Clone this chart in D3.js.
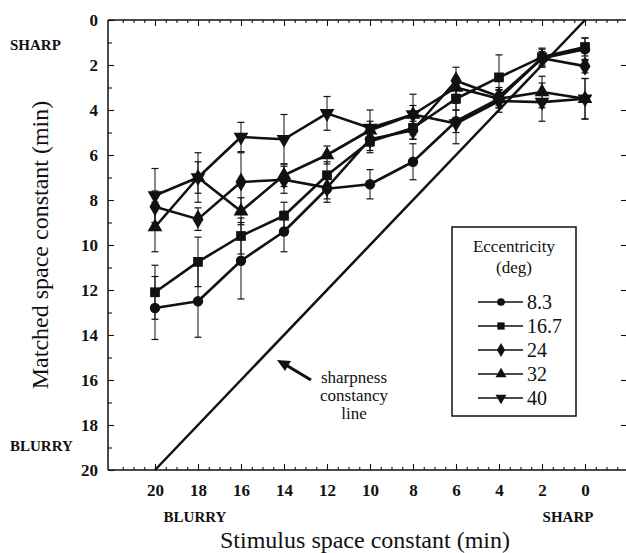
<!DOCTYPE html>
<html>
<head>
<meta charset="utf-8">
<script src="https://cdn.jsdelivr.net/npm/d3@7"></script>
<style>
  body { margin: 0; background: #fff; }
</style>
</head>
<body>
<svg id="chart" width="626" height="553"></svg>
<script>
// stimulus space constant (min), left to right
const stimulus = [20, 18, 16, 14, 12, 10, 8, 6, 4, 2, 0];
const eccentricities = ["8.3", "16.7", "24", "32", "40"];

// matched space constant (min) per eccentricity
const matched83 = [12.8, 12.5, 10.7, 9.4, 7.5, 7.3, 6.3, 4.5, 3.5, 1.7, 1.3];
const matched167 = [12.1, 10.75, 9.6, 8.7, 6.9, 5.4, 4.8, 3.5, 2.55, 1.65, 1.2];
const matched24 = [8.3, 8.85, 7.2, 7.1, 7.45, 5.3, 4.9, 2.7, 3.4, 1.7, 2.05];
const matched32 = [9.2, 7.0, 8.5, 6.9, 6.0, 4.9, 4.2, 3.0, 3.5, 3.2, 3.5];
const matched40 = [7.8, 7.0, 5.2, 5.3, 4.15, 4.8, 4.2, 4.6, 3.6, 3.65, 3.5];

// error bar half lengths
const err83 = [1.4, 1.6, 1.7, 0.9, 0.6, 0.65, 0.8, 0.5, 0.4, 0.3, 0.5];
const err167 = [1.2, 1.1, 0.8, 0.6, 0.6, 0.5, 0.5, 0.5, 1.0, 0.4, 0.4];
const err24 = [0.7, 0.5, 1.3, 0.6, 0.5, 0.5, 0.4, 0.6, 0.4, 0.4, 0.3];
const err32 = [1.1, 0.7, 0.6, 0.5, 0.4, 0.4, 0.4, 0.4, 0.4, 0.7, 0.9];
const err40 = [1.2, 1.1, 0.65, 1.1, 0.75, 0.8, 0.9, 0.9, 0.5, 0.85, 0.9];

const xTicks = [20, 18, 16, 14, 12, 10, 8, 6, 4, 2, 0];
const yTicks = [0, 2, 4, 6, 8, 10, 12, 14, 16, 18, 20];

const series = [
  { name: eccentricities[0], values: matched83, err: err83, shape: "circle" },
  { name: eccentricities[1], values: matched167, err: err167, shape: "square" },
  { name: eccentricities[2], values: matched24, err: err24, shape: "diamond" },
  { name: eccentricities[3], values: matched32, err: err32, shape: "up" },
  { name: eccentricities[4], values: matched40, err: err40, shape: "down" },
];

const SERIF = "'Liberation Serif', 'DejaVu Serif', 'Times New Roman', Times, serif";

const svg = d3.select("#chart");

const FRAME = { left: 108, right: 626, top: 20, bottom: 470 };
const x = d3.scaleLinear().domain([20, 0]).range([155, 585]);
const y = d3.scaleLinear().domain([0, 20]).range([FRAME.top, FRAME.bottom]);

// symbol path generator for each marker shape
function symbolPath(shape, scale = 1) {
  const types = {
    circle: [d3.symbolCircle, 85],
    square: [d3.symbolSquare, 95],
    diamond: [d3.symbolDiamond, 105],
    up: [d3.symbolTriangle, 95],
    down: [d3.symbolTriangle, 95],
  };
  const [type, size] = types[shape];
  return d3.symbol().type(type).size(size * scale)();
}

// frame lines
[[FRAME.left, FRAME.top, FRAME.right, FRAME.top],
 [FRAME.left, FRAME.bottom, FRAME.right, FRAME.bottom],
 [FRAME.left, FRAME.top, FRAME.left, FRAME.bottom]].forEach(([x1, y1, x2, y2]) => {
  svg.append("line")
    .attr("x1", x1).attr("y1", y1).attr("x2", x2).attr("y2", y2)
    .attr("stroke", "#111").attr("stroke-width", 1.5);
});

// minor tick values along x (every 0.5 within the frame)
const xMinor = d3.range(-1.5, 22.01, 0.5).filter((v) => v % 2 !== 0);
const yMinor = d3.range(1, 20, 2);

function styleAxis(g) {
  g.attr("font-family", SERIF);
  g.select(".domain").remove();
  g.selectAll(".tick line").attr("stroke", "#111").attr("stroke-width", 1.1);
}

// bottom axis: ticks point up into the plot
const xAxisBottom = svg.append("g")
  .attr("transform", `translate(0,${FRAME.bottom})`)
  .call(d3.axisBottom(x).tickValues(xTicks).tickSize(-6).tickPadding(14).tickFormat(d3.format("d")));
styleAxis(xAxisBottom);
xAxisBottom.selectAll("text")
  .attr("font-size", 17).attr("font-weight", "bold");

svg.append("g")
  .attr("transform", `translate(0,${FRAME.bottom})`)
  .call(d3.axisBottom(x).tickValues(xMinor).tickSize(-3).tickFormat(""))
  .call(styleAxis);

// top axis: ticks point down
svg.append("g")
  .attr("transform", `translate(0,${FRAME.top})`)
  .call(d3.axisTop(x).tickValues(xTicks).tickSize(-6).tickFormat(""))
  .call(styleAxis);
svg.append("g")
  .attr("transform", `translate(0,${FRAME.top})`)
  .call(d3.axisTop(x).tickValues(xMinor).tickSize(-3).tickFormat(""))
  .call(styleAxis);

// left axis: ticks point right
const yAxisLeft = svg.append("g")
  .attr("transform", `translate(${FRAME.left},0)`)
  .call(d3.axisLeft(y).tickValues(yTicks).tickSize(-6).tickPadding(10).tickFormat(d3.format("d")));
styleAxis(yAxisLeft);
yAxisLeft.selectAll("text")
  .attr("font-size", 17).attr("font-weight", "bold");
svg.append("g")
  .attr("transform", `translate(${FRAME.left},0)`)
  .call(d3.axisLeft(y).tickValues(yMinor).tickSize(-4).tickFormat(""))
  .call(styleAxis);

// right edge: only short ticks visible
svg.append("g")
  .attr("transform", `translate(${FRAME.right},0)`)
  .call(d3.axisRight(y).tickValues(yTicks.slice(1, -1)).tickSize(-5).tickFormat(""))
  .call(styleAxis);

// sharpness constancy line (identity)
svg.append("line")
  .attr("x1", x(20)).attr("y1", y(20))
  .attr("x2", x(0)).attr("y2", y(0))
  .attr("stroke", "#111").attr("stroke-width", 2.5);

// error bars
const bars = svg.append("g").attr("class", "error-bars");
series.forEach((s) => {
  s.values.forEach((v, i) => {
    const cx = x(stimulus[i]);
    const lo = y(v - s.err[i]);
    const hi = y(v + s.err[i]);
    bars.append("line")
      .attr("x1", cx).attr("x2", cx).attr("y1", lo).attr("y2", hi)
      .attr("stroke", "#111").attr("stroke-width", 1);
    [lo, hi].forEach((yy) => {
      bars.append("line")
        .attr("x1", cx - 3.5).attr("x2", cx + 3.5).attr("y1", yy).attr("y2", yy)
        .attr("stroke", "#111").attr("stroke-width", 1.2);
    });
  });
});

// series lines and markers
const line = d3.line()
  .x((d) => x(d.s))
  .y((d) => y(d.v));

series.forEach((s) => {
  const pts = s.values.map((v, i) => ({ s: stimulus[i], v }));
  svg.append("path")
    .datum(pts)
    .attr("d", line)
    .attr("fill", "none")
    .attr("stroke", "#111")
    .attr("stroke-width", 2.6)
    .attr("stroke-linejoin", "round");
  svg.append("g")
    .selectAll("path")
    .data(pts)
    .join("path")
    .attr("d", symbolPath(s.shape))
    .attr("transform", (d) =>
      `translate(${x(d.s)},${y(d.v)})` + (s.shape === "down" ? " rotate(180)" : ""))
    .attr("fill", "#111");
});

// legend
const legend = svg.append("g").attr("class", "legend");
legend.append("rect")
  .attr("x", 452).attr("y", 227).attr("width", 124).attr("height", 189)
  .attr("fill", "#fff").attr("stroke", "#111").attr("stroke-width", 1.5);
legend.append("text")
  .attr("x", 514).attr("y", 252).attr("text-anchor", "middle")
  .attr("font-size", 17).text("Eccentricity");
legend.append("text")
  .attr("x", 514).attr("y", 273).attr("text-anchor", "middle")
  .attr("font-size", 17).text("(deg)");
series.forEach((s, i) => {
  const ly = 302 + i * 24;
  legend.append("line")
    .attr("x1", 478).attr("x2", 523).attr("y1", ly).attr("y2", ly)
    .attr("stroke", "#111").attr("stroke-width", 1.5);
  legend.append("path")
    .attr("d", symbolPath(s.shape, 0.55))
    .attr("transform", `translate(501,${ly})` + (s.shape === "down" ? " rotate(180)" : ""))
    .attr("fill", "#111");
  legend.append("text")
    .attr("x", 527).attr("y", ly + 7)
    .attr("font-size", 20).text(s.name);
});

// annotation arrow
svg.append("line")
  .attr("x1", 311).attr("y1", 380).attr("x2", 286).attr("y2", 365)
  .attr("stroke", "#111").attr("stroke-width", 3.2);
svg.append("path")
  .attr("d", "M277,360 L291,361 L285,371 Z")
  .attr("fill", "#111");

["sharpness", "constancy", "line"].forEach((t, i) => {
  svg.append("text")
    .attr("x", 354).attr("y", 383 + i * 18)
    .attr("text-anchor", "middle").attr("font-size", 17)
    .text(t);
});

// SHARP / BLURRY markers
const smallCaps = (xx, yy, t, anchor) =>
  svg.append("text")
    .attr("x", xx).attr("y", yy).attr("text-anchor", anchor)
    .attr("font-size", 15).attr("font-weight", "bold").text(t);
smallCaps(10, 50, "SHARP", "start");
smallCaps(10, 451, "BLURRY", "start");
smallCaps(195, 522, "BLURRY", "middle");
smallCaps(568, 522, "SHARP", "middle");

// axis titles
svg.append("text")
  .attr("x", 365).attr("y", 548).attr("text-anchor", "middle")
  .attr("font-size", 24).text("Stimulus space constant (min)");
svg.append("text")
  .attr("transform", `translate(48,${245}) rotate(-90)`)
  .attr("text-anchor", "middle")
  .attr("font-size", 24).text("Matched space constant (min)");

// serif everywhere, set inline on each text
svg.selectAll("text").style("font-family", SERIF).attr("fill", "#111");
</script>
</body>
</html>
